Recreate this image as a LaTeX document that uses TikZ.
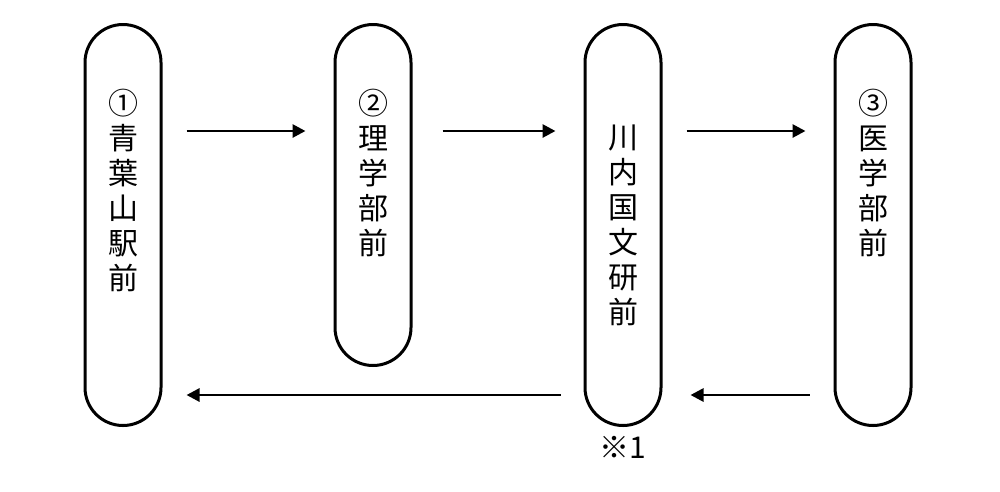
\documentclass[tikz,border=0pt]{standalone}
\usepackage{fontspec}
\setmainfont{Noto Sans CJK JP}
\usetikzlibrary{positioning}
\usetikzlibrary{arrows.meta}

\begin{document}
\begin{tikzpicture}[x=1pt,y=-1pt,node distance=0,
    stop/.style={draw,line width=3pt,minimum width=76pt,rounded corners=38pt,inner sep=0},
    stoptext/.style={align=center,inner sep=0,font=\fontsize{30}{35}\selectfont},
    arr/.style={-{Triangle[length=13pt,width=13pt]},line width=2.8pt,shorten <=24pt,shorten >=28pt}]
    \useasboundingbox (0,0) rectangle (1000,491);
    % Place nodes
    \node [stop,minimum height=401pt] (aoba) at (123,225) {};
    \node [stop,minimum height=341pt] (rigaku) at (373,195) {};
    \node [stop,minimum height=401pt] (kawauchi) at (623,225) {};
    \node [stop,minimum height=401pt] (igaku) at (873,225) {};

    \node [stoptext,below=66pt of aoba.north] (aobatext) {①\\青\\葉\\山\\駅\\前};
    \node [stoptext,below=66pt of rigaku.north] (rigakutext) {②\\理\\学\\部\\前};
    \node [stoptext] (kawauchitext) at (kawauchi) {川\\内\\国\\文\\研\\前};
    \node [stoptext,below=66pt of igaku.north] (igakutext) {③\\医\\学\\部\\前};
    \node [stoptext,below=9pt of kawauchi.south] (note) {※1};

    \coordinate (top) at (0,131);
    \coordinate (bottom) at (0,395);

    \draw [arr] (aoba.east |- top) -- (rigaku.west |- top);
    \draw [arr,shorten <=30pt] (rigaku.east |- top) -- (kawauchi.west |- top);
    \draw [arr] (kawauchi.east |- top) -- (igaku.west |- top);
    \draw [arr,shorten <=23pt,shorten >=24pt] (kawauchi.west |- bottom) -- (aoba.east |- bottom);
    \draw [arr] (igaku.west |- bottom) -- (kawauchi.east |- bottom);
\end{tikzpicture}
\end{document}
